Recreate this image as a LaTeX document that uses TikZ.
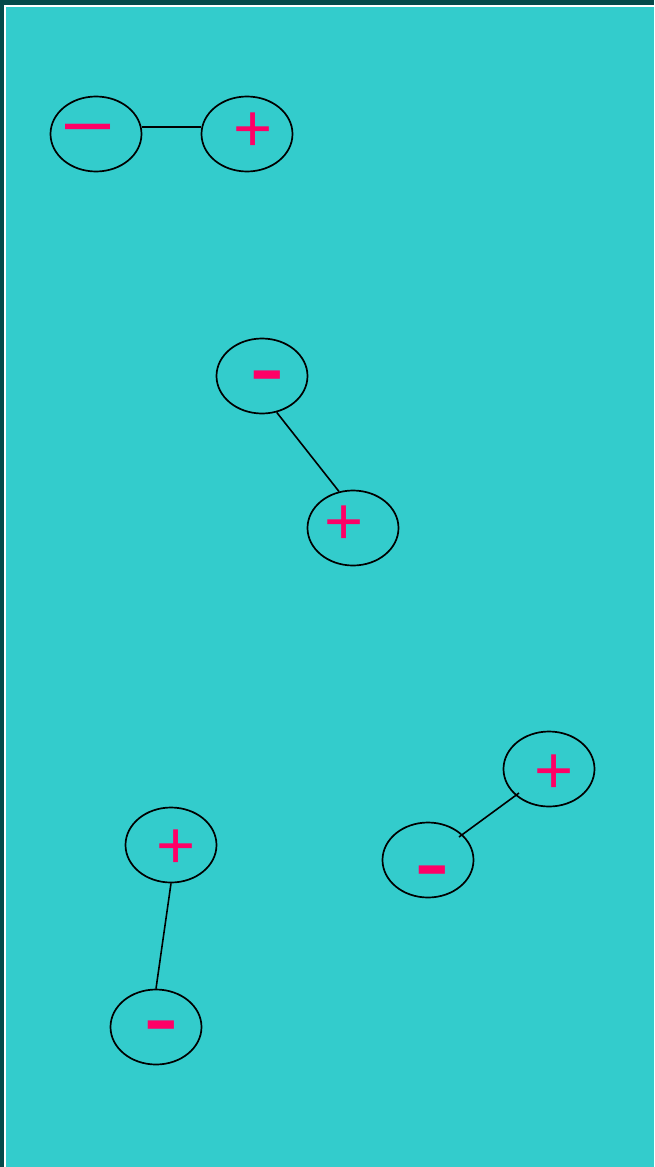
\documentclass[tikz,border=0pt]{standalone}
\usepackage{fontspec}
\setmainfont{Liberation Sans}
\usetikzlibrary{shapes.geometric}
\definecolor{bgteal}{HTML}{33CCCC}
\definecolor{darkteal}{HTML}{054A4A}
\definecolor{signpink}{HTML}{FF0066}
\begin{document}
\begin{tikzpicture}[x=1pt,y=-1pt,
  ion/.style={draw=black, line width=1.7pt, ellipse, minimum width=91pt, minimum height=75pt, inner sep=0pt},
  sign/.style={text=signpink, inner sep=0pt, outer sep=0pt},
  plussign/.style={sign, font=\fontsize{67}{67}\selectfont},
  minussign/.style={sign, font=\fontsize{107}{107}\selectfont},
  longminus/.style={sign, font=\fontsize{81}{81}\selectfont},
  bond/.style={draw=black, line width=1.6pt}]
\useasboundingbox (0,0) rectangle (654,1167);
\fill[darkteal] (0,0) rectangle (654,1167);
\fill[white] (4,5) rectangle (654,1167);
\fill[bgteal] (6,7) rectangle (654,1167);
% ellipses
\node[ion] (e1) at (96,134) {};
\node[ion] (e2) at (247,134) {};
\node[ion] (e3) at (262,376) {};
\node[ion] (e4) at (353,528) {};
\node[ion] (e5) at (549,769) {};
\node[ion] (e6) at (428,860) {};
\node[ion] (e7) at (171,845) {};
\node[ion] (e8) at (156,1027) {};
% signs
\node[longminus] (s1) at (88.5,136) {–};
\node[plussign] (s2) at (253,131.8) {+};
\node[minussign] (s3) at (267.5,387.5) {-};
\node[plussign] (s4) at (344,525.3) {+};
\node[plussign] (s5) at (554,773.8) {+};
\node[minussign] (s6) at (432.5,882.5) {-};
\node[plussign] (s7) at (176,849.3) {+};
\node[minussign] (s8) at (161.5,1037.5) {-};
% bonds
\draw[bond] (e1.9) -- (e2.171);
\draw[bond] (e3.-68) -- (e4.111);
\draw[bond] ([shift={(-30,24)}]e5.center) -- ([shift={(31,-23)}]e6.center);
\draw[bond] (e7.south) -- (e8.north);
\end{tikzpicture}
\end{document}
